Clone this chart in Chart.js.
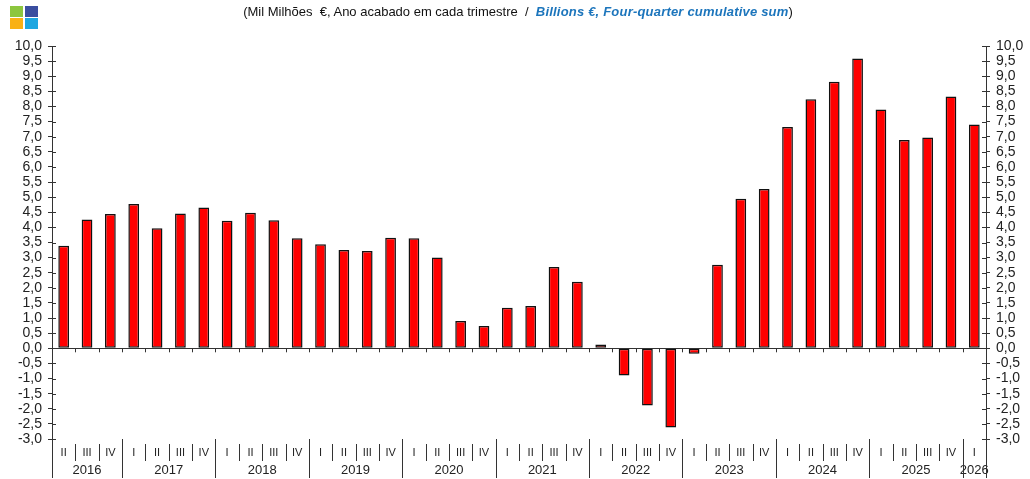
<!DOCTYPE html>
<html>
<head>
    <meta charset="utf-8">
    <script src="https://cdn.jsdelivr.net/npm/chart.js"></script>
    <title>Mil Milhões €</title>
    <style>
        body { margin: 0; background: #fff; font-family: "Liberation Sans", Arial, sans-serif; }
        .wrap { position: relative; width: 1030px; height: 479px; }
        #chart { position: absolute; left: 0; top: 0; }
        .logo { position: absolute; left: 10px; top: 6px; width: 28px; height: 23px; }
        .logo span { position: absolute; width: 13px; height: 11px; }
        .titulo { position: absolute; top: 4px; left: 0; width: 1036px; text-align: center; font-size: 13px; color: #111; white-space: pre; }
        .titulo b { color: #1c75bc; font-style: italic; letter-spacing: 0.2px; }
    </style>
</head>
<body>
<div class="wrap">
    <canvas id="chart" width="1030" height="479"></canvas>
    <div class="logo">
        <span style="left:0;top:0;background:#8cc63e"></span>
        <span style="left:15px;top:0;background:#3a4ea0"></span>
        <span style="left:0;top:12px;background:#f9b115"></span>
        <span style="left:15px;top:12px;background:#1ea7e1"></span>
    </div>
    <div class="titulo">(Mil Milhões  €, Ano acabado em cada trimestre  /  <b>Billions €, Four-quarter cumulative sum</b>)</div>
</div>

<script type="text/javascript">
    const quarterLabels = [
        'II', 'III', 'IV',
        'I', 'II', 'III', 'IV',
        'I', 'II', 'III', 'IV',
        'I', 'II', 'III', 'IV',
        'I', 'II', 'III', 'IV',
        'I', 'II', 'III', 'IV',
        'I', 'II', 'III', 'IV',
        'I', 'II', 'III', 'IV',
        'I', 'II', 'III', 'IV',
        'I', 'II', 'III', 'IV',
        'I'
    ];
    const yearLabels = ['2016', '2017', '2018', '2019', '2020', '2021', '2022', '2023', '2024', '2025', '2026'];
    const quartersPerYear = [3, 4, 4, 4, 4, 4, 4, 4, 4, 4, 1];
    const valores = [
        3.39, 4.26, 4.44,
        4.77, 3.97, 4.46, 4.66,
        4.22, 4.48, 4.24, 3.64,
        3.44, 3.25, 3.22, 3.66,
        3.64, 3.0, 0.9, 0.74,
        1.34, 1.4, 2.69, 2.2,
        0.13, -0.9, -1.89, -2.62,
        -0.18, 2.76, 4.95, 5.27,
        7.32, 8.24, 8.82, 9.59,
        7.9, 6.89, 6.97, 8.33,
        7.4
    ];

    const fmt = v => Number(v).toFixed(1).replace('.', ',');
    const font = { family: '"Liberation Sans", Arial, sans-serif', size: 14 };

    // ejes extra: linea de cero, marcas internas, trimestres y años
    const axisDeco = {
        id: 'axisDeco',
        afterDraw(chart) {
            const { ctx, chartArea } = chart;
            const x = chart.scales.x, y = chart.scales.y;
            const step = x.getPixelForValue(1) - x.getPixelForValue(0);
            const y0 = y.getPixelForValue(0);
            ctx.save();
            ctx.strokeStyle = '#333';
            ctx.lineWidth = 1;

            // linea de cero con marcas
            ctx.beginPath();
            ctx.moveTo(chartArea.left, Math.round(y0) + 0.5);
            ctx.lineTo(chartArea.right, Math.round(y0) + 0.5);
            for (let i = 1; i < quarterLabels.length; i++) {
                const px = Math.round(x.getPixelForValue(i) - step / 2) + 0.5;
                ctx.moveTo(px, y0);
                ctx.lineTo(px, y0 + 4);
            }
            ctx.stroke();

            // marcas hacia dentro en los ejes y
            ctx.beginPath();
            y.ticks.forEach(t => {
                const py = Math.round(y.getPixelForValue(t.value)) + 0.5;
                ctx.moveTo(chartArea.left, py);
                ctx.lineTo(chartArea.left + 4, py);
                ctx.moveTo(chartArea.right, py);
                ctx.lineTo(chartArea.right - 4, py);
            });
            ctx.stroke();

            // separadores de trimestres y años
            const bottom = chartArea.bottom;
            ctx.fillStyle = '#222';
            ctx.textAlign = 'center';
            ctx.textBaseline = 'middle';
            let idx = 0;
            ctx.beginPath();
            yearLabels.forEach((yr, k) => {
                const n = quartersPerYear[k];
                const first = idx, last = idx + n - 1;
                const left = Math.round(x.getPixelForValue(first) - step / 2) + 0.5;
                ctx.moveTo(left, bottom);
                ctx.lineTo(left, bottom + 39);
                for (let q = first + 1; q <= last; q++) {
                    const px = Math.round(x.getPixelForValue(q) - step / 2) + 0.5;
                    ctx.moveTo(px, bottom + 5);
                    ctx.lineTo(px, bottom + 22);
                }
                ctx.font = '13px "Liberation Sans", Arial, sans-serif';
                const cx = (x.getPixelForValue(first) + x.getPixelForValue(last)) / 2;
                ctx.fillText(yr, cx, bottom + 31);
                idx += n;
            });
            const right = Math.round(x.getPixelForValue(quarterLabels.length - 1) + step / 2) + 0.5;
            ctx.moveTo(right, bottom);
            ctx.lineTo(right, bottom + 39);
            ctx.stroke();

            ctx.font = '11px "Liberation Sans", Arial, sans-serif';
            quarterLabels.forEach((q, i) => {
                ctx.fillText(q, x.getPixelForValue(i), bottom + 14);
            });
            ctx.restore();
        }
    };

    new Chart(document.getElementById('chart'), {
        type: 'bar',
        data: {
            labels: quarterLabels,
            datasets: [{
                data: valores,
                backgroundColor: '#ff0000',
                borderColor: '#111',
                borderWidth: 1.5,
                borderSkipped: false,
                barPercentage: 0.46,
                categoryPercentage: 1
            }]
        },
        options: {
            responsive: false,
            animation: false,
            layout: { padding: { top: 46, left: 0, right: 0, bottom: 0 } },
            plugins: { legend: { display: false }, tooltip: { enabled: false } },
            scales: {
                x: {
                    offset: true,
                    grid: { display: false },
                    border: { display: false },
                    ticks: { display: false },
                    afterFit: s => { s.height = 40; }
                },
                y: {
                    position: 'left',
                    min: -3, max: 10,
                    ticks: { stepSize: 0.5, callback: fmt, color: '#222', font: font, padding: 6, autoSkip: false },
                    grid: { drawOnChartArea: false, tickLength: 4, color: '#333' },
                    border: { color: '#333' },
                    afterFit: s => { s.width = 52; }
                },
                y2: {
                    position: 'right',
                    min: -3, max: 10,
                    ticks: { stepSize: 0.5, callback: fmt, color: '#222', font: font, padding: 6, autoSkip: false },
                    grid: { drawOnChartArea: false, tickLength: 4, color: '#333' },
                    border: { color: '#333' },
                    afterFit: s => { s.width = 44; }
                }
            }
        },
        plugins: [axisDeco]
    });
</script>
</body>
</html>
